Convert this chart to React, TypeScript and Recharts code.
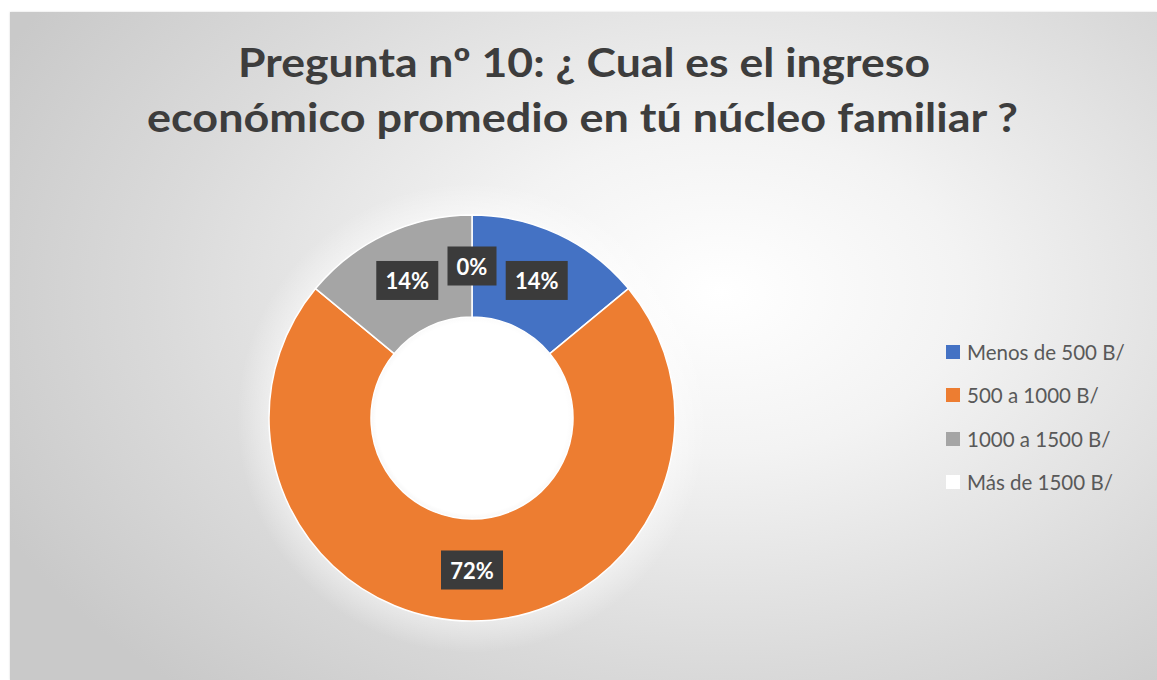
import { Cell, Legend, Pie, PieChart } from "recharts";

const categories = ["Menos de 500 B/", "500 a 1000 B/", "1000 a 1500 B/", "Más de 1500 B/"];
const shares = [14, 72, 14, 0];
const colors = ["#4472C4", "#ED7D31", "#A5A5A5", "#FFFFFF"];
const titleLines = ["Pregunta nº 10: ¿ Cual es el ingreso", "económico promedio en tú núcleo familiar ?"];

const data = categories.map((name, i) => ({ name, value: shares[i] }));

const RADIAN = Math.PI / 180;

function renderLabel(props: any) {
  const { cx, cy, midAngle, innerRadius, outerRadius, percent } = props;
  const r = (innerRadius + outerRadius) / 2;
  const x = cx + r * Math.cos(-midAngle * RADIAN);
  const y = cy + r * Math.sin(-midAngle * RADIAN);
  const text = `${Math.round(percent * 100)}%`;
  const w = text.length * 13 + 23;
  const h = 39;
  return (
    <g>
      <rect x={x - w / 2} y={y - h / 2} width={w} height={h} fill="#3b3b3b" />
      <text
        x={x}
        y={y}
        textAnchor="middle"
        dominantBaseline="central"
        fill="#ffffff"
        fontFamily="Lato, sans-serif"
        fontWeight={700}
        fontSize={22}
      >
        {text}
      </text>
    </g>
  );
}

// keep the legend in data order (recharts sorts it by name otherwise)
function renderLegend(props: any) {
  const payload = [...(props.payload || [])].sort(
    (a: any, b: any) => categories.indexOf(a.value) - categories.indexOf(b.value)
  );
  return (
    <ul style={{ margin: 0, padding: 0, listStyle: "none" }}>
      {payload.map((entry: any) => (
        <li key={entry.value} style={{ height: 43.5, display: "flex", alignItems: "center" }}>
          <span style={{ width: 14, height: 14, background: entry.color, marginRight: 7, display: "inline-block" }} />
          <span style={{ fontFamily: "Lato, sans-serif", fontSize: 20.5, color: "#595959" }}>{entry.value}</span>
        </li>
      ))}
    </ul>
  );
}

export default function App() {
  return (
    <div style={{ position: "absolute", left: 0, top: 0, width: 1157, height: 680, background: "#ffffff" }}>
      <div
        style={{
          position: "absolute",
          left: 10,
          top: 12,
          width: 1147,
          height: 668,
          background: [
            "radial-gradient(circle 104px at 462px 406px, #ffffff 92%, rgba(255,255,255,0) 100%)",
            "radial-gradient(circle 235px at 462px 406px, rgba(255,255,255,0.55) 82%, rgba(255,255,255,0) 100%)",
            "radial-gradient(ellipse 70% 80% at 62% 42%, #ffffff 0%, #f3f3f3 30%, #dadada 70%, #c9c9c9 100%)",
          ].join(", "),
          boxShadow: "0 0 2px rgba(0,0,0,0.15)",
        }}
      >
        <PieChart width={1147} height={668}>
          <Pie
            data={data}
            dataKey="value"
            nameKey="name"
            cx={457}
            cy={401}
            innerRadius={101}
            outerRadius={203}
            startAngle={90}
            endAngle={-270}
            stroke="#ffffff"
            strokeWidth={1.5}
            label={renderLabel}
            labelLine={false}
            isAnimationActive={false}
          >
            {data.map((d, i) => (
              <Cell key={d.name} fill={colors[i]} />
            ))}
          </Pie>
          <Legend
            layout="vertical"
            content={renderLegend}
            wrapperStyle={{ position: "absolute", left: 936, top: 318, width: 200 }}
          />
        </PieChart>
      </div>
      <svg width={1157} height={680} style={{ position: "absolute", left: 0, top: 0, pointerEvents: "none" }}>
        {titleLines.map((line, i) => (
          <text
            key={line}
            x={i === 0 ? 584 : 582.5}
            y={i === 0 ? 77 : 132}
            textAnchor="middle"
            fontFamily="Lato, sans-serif"
            fontWeight={700}
            fontSize={40}
            fill="#3d3d3d"
            textLength={i === 0 ? 692 : 871}
            lengthAdjust="spacingAndGlyphs"
          >
            {line}
          </text>
        ))}
      </svg>
    </div>
  );
}
